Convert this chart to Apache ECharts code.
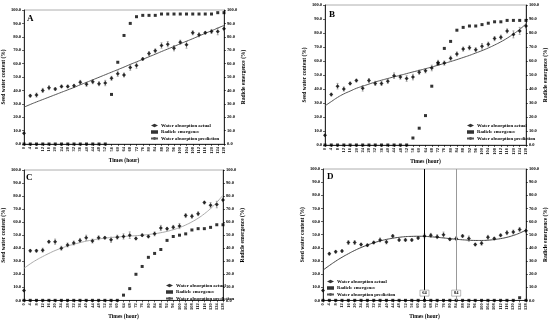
<!DOCTYPE html>
<html><head><meta charset="utf-8">
<script src="https://cdn.jsdelivr.net/npm/echarts@6/dist/echarts.min.js"></script>
<style>html,body{margin:0;padding:0;background:#fff}#c{width:550px;height:321px}</style>
</head><body><div id="c"></div>
<script>
const times = ['0','4','8','12','16','20','24','28','32','36','40','44','48','52','56','60','64','68','72','76','80','84','88','92','96','100','104','108','112','116','120','124','128'];
const yTicks = [0,10,20,30,40,50,60,70,80,90,100];
const panelLabels = ['A','B','C','D'];

const waterA = [8,36,36.5,40,42,41,43,43,43.5,46,44.5,46.5,45,45.5,49,52.5,51.5,57,58.5,63.5,67.5,69.5,73.5,74.5,71.5,76,74,83,81.5,83,84,84,86];
const radA   = [0,0,0,0,0,0,0,0,0,0,0,0,0,0,37,61,81,90,95,96,96,96,97,97,97,97,97,97,97,97,97,98,98];
const predA  = [27.5,29.5,31.4,33.2,35,36.8,38.6,40.4,42.2,44.2,46,47.9,49.8,51.7,53.6,55.5,57.4,59.4,61.3,63.2,65.1,67,69,70.9,72.8,74.8,76.7,78.6,80.6,82.6,84.5,86.5,88.5];
const errA   = [0.5,1,1.5,1.5,1.5,1,1,1,1,1.5,1.5,1.5,1.5,2,1.5,2,1.5,2,2,1,1.5,1.5,2,2,2,1.5,2.5,1.5,1.5,1,1.5,2.5,1.5];

const waterB = [7,36,42,40,44,46,40.5,46,44,44,45.5,49.5,48.5,47.5,48.5,52,53,55,59,58.5,62,65,68.5,69.5,68,70.5,72,76,77,81.5,79,81.5,85];
const radB   = [0,0,0,0,0,0,0,0,0,0,0,0,0,0,5,12,21,42,58,69,74,82,84,85,85,86,87,88,88,89,89,89,89];
const predB  = [28,31,34,36.5,38.5,40.5,42,43.5,45,46.3,47.5,48.7,49.8,51,52.2,53.3,54.5,55.7,57,58.3,59.6,61,62.5,64,65.7,67.4,69.3,71.4,73.7,76.3,79.3,82.6,86.5];
const errB   = [0.5,1,2,1.5,1,1,2,1.5,1.5,1.5,1.5,2,1.5,2,2,1.5,1.5,2,1.5,1.5,1.5,1.5,1.5,1.5,1.5,2,1.5,1.5,1.5,1.5,2.5,2.5,1.5];

const waterC = [7.5,38,38,38.5,45,45,40,42.5,44,46,48,45.5,48,48,46.5,48.5,49,50,47.5,50,49,51,55.5,55,56,57,65,64.5,66.5,75,73,73.5,77];
const radC   = [0,0,0,0,0,0,0,0,0,0,0,0,0,0,0,0,4,9,20,26,33,36,39,46,49,50,51,54,55,55,56,58,58];
const predC  = [24.6,28,31,33.6,36,38.2,40,41.7,43,44.3,45.4,46.3,47.1,47.7,48.2,48.6,49,49.3,49.6,50,50.5,51.1,51.9,52.9,54.2,55.8,57.8,60.2,63,66.4,70.4,75.2,80.7];
const errC   = [0.5,1,1,1.5,1,2,1.5,1.5,1.5,1.5,2,1.5,1.5,1,2,1.5,2,2.5,1,1,1,1.5,2,1,1.5,2,1.5,1.5,1.5,1,2,2.5,1.5];

const waterD = [7.5,35.5,37,37.5,44,44,42.5,42,44,46,44.5,49,46,46,46,47.5,49,49.5,48.5,50,46.5,47,49,47,42.5,43.5,48,47,49.5,51.5,52,54,53];
const radD   = [0,0,0,0,0,0,0,0,0,0,0,0,0,0,0,0,0,0,0,0,0,0,0,0,0,0,0,0,0,0,0,2,0];
const predD  = [23,26.5,29.8,32.8,35.5,38,40.2,42.1,43.8,45.2,46.4,47.3,48,48.5,48.7,48.8,48.7,48.4,48,47.5,47,46.5,46.1,45.8,45.6,45.6,45.8,46.3,47,48,49.4,51.2,53.5];
const errD   = [0.5,1,1,1,1.5,1.5,1,1,1,1.5,1.5,1,1,1,1,1,1.5,1.5,1.5,2,1,1.5,1,2,1,1.5,1.5,1,1,1.5,1.5,1.5,1.5];
const markTimes = ['64','84'];

const panels = [
  {water:waterA, rad:radA, pred:predA, err:errA, predColor:'#555',
   grid:{left:23,right:326,top:10,bottom:177}, legend:{left:150,top:123}, label:{left:27,top:14}},
  {water:waterB, rad:radB, pred:predB, err:errB, predColor:'#555',
   grid:{left:325,right:23,top:5,bottom:176}, legend:{left:466,top:123}, label:{left:329,top:10}},
  {water:waterC, rad:radC, pred:predC, err:errC, predColor:'#aaa',
   grid:{left:23,right:327,top:170,bottom:19}, legend:{left:165,top:283}, label:{left:26,top:173}},
  {water:waterD, rad:radD, pred:predD, err:errD, predColor:'#444',
   grid:{left:323,right:23,top:169,bottom:19}, legend:{left:326,top:279}, label:{left:327,top:172}}
];

const FF = 'Liberation Serif';
const txt = (s, extra) => Object.assign({fontFamily:FF, fontWeight:'bold', color:'#000', fontSize:s}, extra||{});

const grid=[], xAxis=[], yAxis=[], series=[], legend=[], title=[];
panels.forEach((p,k)=>{
  grid.push(Object.assign({show:true, borderColor:'#999', borderWidth:0.8, backgroundColor:'transparent'}, p.grid));
  xAxis.push({type:'category', gridIndex:k, data:times, boundaryGap:false,
    name:'Times (hour)', nameLocation:'middle', nameGap:13, nameTextStyle:txt(5.5),
    axisLine:{lineStyle:{color:'#000', width:0.8}}, axisTick:{show:true, length:2, interval:0, lineStyle:{color:'#000',width:0.6}},
    axisLabel:Object.assign({interval:0, rotate:90, margin:3}, txt(4.5)), splitLine:{show:false}});
  const yCommon = {type:'value', gridIndex:k, min:yTicks[0], max:yTicks[yTicks.length-1], interval:yTicks[1]-yTicks[0],
    nameLocation:'middle', nameRotate:90, nameTextStyle:txt(5.5), splitLine:{show:false},
    axisLine:{show:true, lineStyle:{color:'#000', width:0.8}}, axisTick:{show:true, length:2, lineStyle:{color:'#000',width:0.6}},
    axisLabel:Object.assign({margin:3, formatter:v=>v.toFixed(1)}, txt(4.5))};
  yAxis.push(Object.assign({}, yCommon, {position:'left', name:'Seed water content (%)', nameGap:15}));
  yAxis.push(Object.assign({}, yCommon, {position:'right', name:'Radicle emergence (%)', nameGap:17}));
  const custData = p.water.map((v,i)=>[i, v, p.err[i]]);
  series.push({type:'custom', xAxisIndex:k, yAxisIndex:2*k, data:custData, silent:true, z:1,
    renderItem:(params, api)=>{
      const c = api.coord([api.value(0), api.value(1)]);
      const hi = api.coord([api.value(0), api.value(1)+api.value(2)]);
      const lo = api.coord([api.value(0), api.value(1)-api.value(2)]);
      const st = {stroke:'#777', lineWidth:0.6};
      return {type:'group', children:[
        {type:'line', shape:{x1:c[0],y1:hi[1],x2:c[0],y2:lo[1]}, style:st},
        {type:'line', shape:{x1:c[0]-1,y1:hi[1],x2:c[0]+1,y2:hi[1]}, style:st},
        {type:'line', shape:{x1:c[0]-1,y1:lo[1],x2:c[0]+1,y2:lo[1]}, style:st}]};
    }});
  const pred = {name:'Water absorption prediction', type:'line', xAxisIndex:k, yAxisIndex:2*k, data:p.pred,
    smooth:true, symbol:'none', showSymbol:false, z:2, lineStyle:{color:p.predColor, width:1}, itemStyle:{color:p.predColor}};
  if (k===3) {
    pred.markLine = {symbol:'none', silent:true, label:{show:false},
      data:[{xAxis:markTimes[0], lineStyle:{color:'#000', width:1, type:'solid'}},
            {xAxis:markTimes[1], lineStyle:{color:'#999', width:1, type:'solid'}}]};
    pred.markPoint = {symbol:'rect', symbolSize:[9,6], silent:true,
      itemStyle:{color:'#fff', borderColor:'#777', borderWidth:0.5},
      label:Object.assign({show:true, position:'inside', formatter:q=>q.name}, txt(4.5)),
      data:markTimes.map(t=>({name:t, coord:[t, 5.5]}))};
  }
  series.push(pred);
  series.push({name:'Water absorption actual', type:'scatter', xAxisIndex:k, yAxisIndex:2*k, data:p.water,
    symbol:'diamond', symbolSize:4, z:3, itemStyle:{color:'#000'}});
  series.push({name:'Radicle emergence', type:'scatter', xAxisIndex:k, yAxisIndex:2*k+1, data:p.rad,
    symbol:'rect', symbolSize:3, z:3, itemStyle:{color:'#000'}});
  legend.push({orient:'vertical', left:p.legend.left, top:p.legend.top, itemWidth:7, itemHeight:3.5, itemGap:1.5,
    selectedMode:false, padding:0,
    data:['Water absorption actual','Radicle emergence','Water absorption prediction'],
    textStyle:txt(4.8, {lineHeight:5, padding:[0,0,0,-2]})});
  title.push({text:panelLabels[k], left:p.label.left, top:p.label.top, padding:0, textStyle:txt(9)});
});

const chart = echarts.init(document.getElementById('c'), null, {renderer:'canvas'});
chart.setOption({animation:false, backgroundColor:'#fff', title, grid, xAxis, yAxis, series, legend});
</script></body></html>
